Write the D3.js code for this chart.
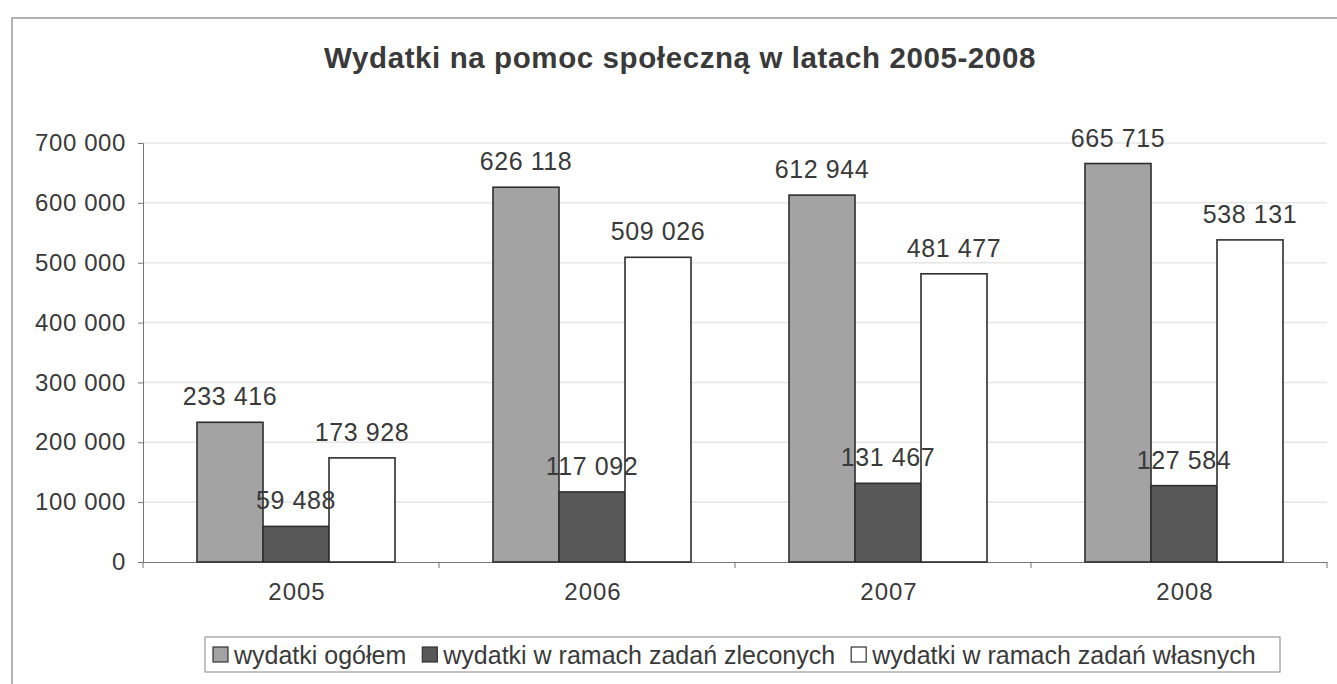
<!DOCTYPE html>
<html lang="pl">
<head>
    <meta charset="UTF-8">
    <title>Wydatki na pomoc społeczną</title>
    <script src="https://d3js.org/d3.v7.min.js"></script>
    <style>
        body { margin: 0; background: #fff; }
        text { font-family: "Liberation Sans", Arial, sans-serif; fill: #3a3a3a; }
    </style>
</head>
<body>
    <svg id="chart"></svg>

    <script>
        // Data
        const years = ["2005", "2006", "2007", "2008"];
        const seriesNames = ["wydatki ogółem", "wydatki w ramach zadań zleconych", "wydatki w ramach zadań własnych"];
        const ogolem = [233416, 626118, 612944, 665715];
        const zlecone = [59488, 117092, 131467, 127584];
        const wlasne = [173928, 509026, 481477, 538131];
        const yTicks = [0, 100000, 200000, 300000, 400000, 500000, 600000, 700000];

        const width = 1337, height = 684;
        const colors = ["#a3a3a3", "#585858", "#ffffff"];
        const fmt = v => d3.format(",")(v).replace(/,/g, " ");
        const font = "'Liberation Sans', Arial, sans-serif";

        const svg = d3.select("#chart").attr("width", width).attr("height", height);

        // outer frame of the scanned chart
        svg.append("rect")
            .attr("x", 12).attr("y", 18)
            .attr("width", 1340).attr("height", 700)
            .attr("fill", "none").attr("stroke", "#9a9a9a").attr("stroke-width", 1.5);

        svg.append("text")
            .attr("x", 680).attr("y", 68)
            .attr("text-anchor", "middle")
            .style("font-size", "29.5px").style("font-weight", "bold")
            .style("letter-spacing", "0.6px")
            .text("Wydatki na pomoc społeczną w latach 2005-2008");

        const x0 = d3.scaleBand().domain(years).range([143, 1327]);
        const x1 = d3.scaleBand().domain(seriesNames).range([54, 252]);
        const y = d3.scaleLinear().domain([0, 700000]).range([562, 143]);

        // gridlines
        svg.append("g").selectAll("line")
            .data(yTicks.slice(1))
            .join("line")
            .attr("x1", 143).attr("x2", 1327)
            .attr("y1", d => y(d)).attr("y2", d => y(d))
            .attr("stroke", "#e6e6e6").attr("stroke-width", 1.5);

        // y axis
        const yAxis = svg.append("g")
            .attr("transform", "translate(143,0)")
            .call(d3.axisLeft(y).tickValues(yTicks).tickSize(5).tickPadding(12).tickFormat(fmt));
        yAxis.select(".domain").attr("stroke", "#777");
        yAxis.selectAll(".tick line").attr("stroke", "#777");
        yAxis.selectAll("text").style("font-size", "24px").style("letter-spacing", "0.6px")
            .attr("fill", "#444").style("font-family", font);

        // x axis
        const xAxis = svg.append("g")
            .attr("transform", `translate(0,${y(0)})`)
            .call(d3.axisBottom(x0).tickSize(0).tickPadding(21));
        xAxis.select(".domain").attr("stroke", "#777");
        xAxis.selectAll("text").style("font-size", "24px").style("letter-spacing", "1px")
            .attr("fill", "#444").style("font-family", font)
            .attr("dx", 6);
        svg.append("g").selectAll("line")
            .data(years.concat(["end"]))
            .join("line")
            .attr("x1", (d, i) => x0.range()[0] + i * x0.bandwidth())
            .attr("x2", (d, i) => x0.range()[0] + i * x0.bandwidth())
            .attr("y1", y(0)).attr("y2", y(0) + 6)
            .attr("stroke", "#777");

        const rows = years.map((yr, i) => ({ year: yr, values: [ogolem[i], zlecone[i], wlasne[i]] }));

        const groups = svg.append("g").selectAll("g")
            .data(rows)
            .join("g")
            .attr("transform", d => `translate(${x0(d.year)},0)`);

        groups.selectAll("rect")
            .data(d => d.values.map((v, k) => ({ name: seriesNames[k], value: v, k })))
            .join("rect")
            .attr("x", d => x1(d.name))
            .attr("y", d => y(d.value))
            .attr("width", x1.bandwidth())
            .attr("height", d => y(0) - y(d.value))
            .attr("fill", d => colors[d.k])
            .attr("stroke", "#2e2e2e").attr("stroke-width", 1.6);

        groups.selectAll("text.val")
            .data(d => d.values.map((v, k) => ({ name: seriesNames[k], value: v, k })))
            .join("text")
            .attr("class", "val")
            .attr("x", d => x1(d.name) + x1.bandwidth() / 2)
            .attr("y", d => y(d.value) - 17)
            .attr("text-anchor", "middle")
            .style("font-size", "25px").style("letter-spacing", "0.6px")
            .text(d => fmt(d.value));

        // legend
        const legend = svg.append("g");
        legend.append("rect")
            .attr("x", 205).attr("y", 637).attr("width", 1075).attr("height", 35)
            .attr("fill", "#fff").attr("stroke", "#999").attr("stroke-width", 1.2);
        let lx = 213;
        seriesNames.forEach((name, k) => {
            legend.append("rect")
                .attr("x", lx).attr("y", 647).attr("width", 15).attr("height", 15)
                .attr("fill", colors[k]).attr("stroke", "#333").attr("stroke-width", 1.2);
            const t = legend.append("text")
                .attr("x", lx + 21).attr("y", 664)
                .style("font-size", "25px")
                .text(name);
            lx += 21 + t.node().getComputedTextLength() + 16;
        });
    </script>
</body>
</html>
